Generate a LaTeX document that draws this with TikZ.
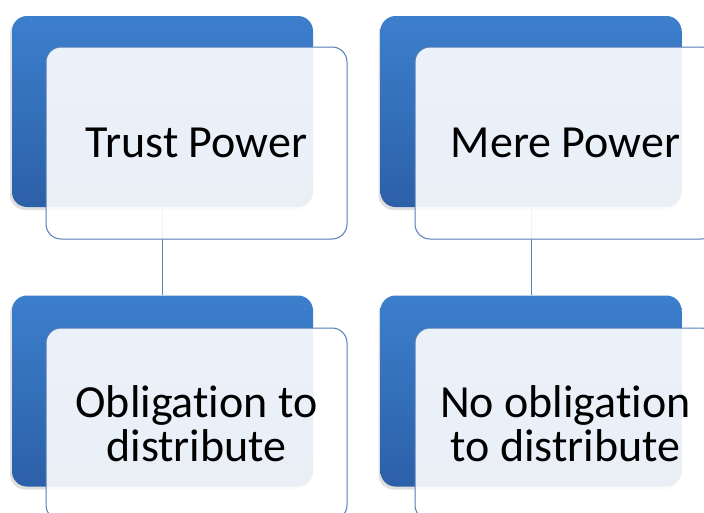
\documentclass[tikz,border=0pt]{standalone}
\usepackage{fontspec}
\setmainfont{Carlito}[Ligatures={NoCommon,NoRare}]
\usetikzlibrary{shadings,shadows}
\definecolor{cardtop}{RGB}{60,127,205}
\definecolor{cardbot}{RGB}{44,96,168}
\definecolor{edgeblue}{RGB}{84,125,185}
\definecolor{linkblue}{RGB}{92,130,185}
\tikzset{
  backcard/.style={rounded corners=15pt, minimum width=301pt, minimum height=191pt,
    inner sep=0pt, top color=cardtop, bottom color=cardbot, draw=none,
    drop shadow={shadow xshift=-2pt, shadow yshift=-3pt, opacity=0.25}},
  frontcard/.style={rounded corners=15pt, minimum width=301pt, minimum height=192pt,
    inner sep=0pt, draw=edgeblue, line width=1pt, fill=white, fill opacity=0.9,
    text opacity=1, align=center, font=\fontsize{46}{44}\selectfont, text=black},
  link/.style={draw=linkblue, line width=1pt}
}
\begin{document}
\begin{tikzpicture}[x=1pt,y=-1pt]
  \useasboundingbox (0,0) rectangle (704,512);
  \clip (0,0) rectangle (704,512);
  \fill[white] (0,0) rectangle (704,512);

  % back cards
  \node[backcard] (tpb) at (162.5,111.5) {};
  \node[backcard] (mpb) at (531,111.5) {};
  \node[backcard] (odb) at (162.5,391) {};
  \node[backcard] (ndb) at (531,391) {};

  % connectors between the columns' cards
  \draw[link] (tpb.south) -- (odb.north);
  \draw[link] (mpb.south) -- (ndb.north);

  % front cards with labels
  \node[frontcard] (tp) at (196.5,143) {Trust Power};
  \node[frontcard] (mp) at (565.5,143) {Mere Power};
  \node[frontcard] (od) at (196.5,424) {Obligation to\\distribute};
  \node[frontcard] (nd) at (565.5,424) {No obligation\\to distribute};
\end{tikzpicture}
\end{document}
